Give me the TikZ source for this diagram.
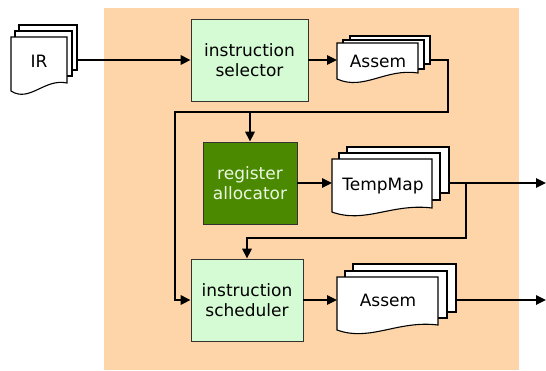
\documentclass[tikz,border=0pt]{standalone}
\usepackage{fontspec}
\setmainfont{DejaVu Sans}
\usetikzlibrary{arrows.meta}
\definecolor{bgor}{RGB}{253,213,168}
\definecolor{lgreen}{RGB}{213,251,212}
\definecolor{dgreen}{RGB}{74,137,0}
\definecolor{ltext}{RGB}{235,248,225}
\tikzset{
  conn/.style={line width=1.7pt, draw=black},
  arr/.style={conn, -{Triangle[length=10pt,width=9.5pt]}},
  procbox/.style={draw=black!80, line width=0.9pt, align=center, inner sep=0pt,
    font=\fontsize{17}{20}\selectfont},
  pagest/.style={draw=black, line width=1.1pt, fill=white},
  pagenode/.style={pagest, inner sep=0pt, outer sep=0pt, anchor=north west},
  doctext/.style={anchor=base, inner sep=0pt, font=\fontsize{17}{20}\selectfont},
}
% back page as named node: name, l, t, r, b
\newcommand\backpage[5]{%
  \pgfmathsetmacro\bpw{#4-#2}\pgfmathsetmacro\bph{#5-#3}%
  \node[pagenode, minimum width=\bpw pt, minimum height=\bph pt] (#1) at (#2,#3) {};}
% front page with wavy bottom: name, l, t, r, bl, br
\newcommand\frontpage[6]{%
  \pgfmathsetmacro\wA{#2+0.6*(#4-#2)}%
  \pgfmathsetmacro\wB{#2+0.33*(#4-#2)}%
  \pgfmathsetmacro\fpw{#4-#2}\pgfmathsetmacro\fph{#6-#3}%
  \draw[pagest] (#2,#3) -- (#4,#3) -- (#4,#6) .. controls (\wA,#6-5) and (\wB,#5+12) .. (#2,#5) -- cycle;
  \node[inner sep=0pt, outer sep=0pt, anchor=north west, minimum width=\fpw pt, minimum height=\fph pt] (#1) at (#2,#3) {};}
\begin{document}
\begin{tikzpicture}[x=1pt,y=-1pt]
\useasboundingbox (0,0) rectangle (546,370);
\fill[bgor] (104,8) rectangle (519,370);

% IR document stack
\backpage{IRb}{19}{25}{77}{70}
\backpage{IRm}{15}{31}{72}{76}
\frontpage{IRf}{11}{37}{67}{91}{83}
\node[doctext] (IRt) at (39,67) {IR};

% process boxes
\node[procbox, fill=lgreen, minimum width=117pt, minimum height=82pt] (sel) at (249.5,60) {instruction\\selector};
\node[procbox, fill=dgreen, text=ltext, minimum width=94pt, minimum height=82pt] (reg) at (250,183) {register\\allocator};
\node[procbox, fill=lgreen, minimum width=112pt, minimum height=82pt] (sch) at (247,300) {instruction\\scheduler};

% Assem (first)
\backpage{Ab}{350}{36}{430}{64}
\backpage{Am}{343}{40}{424}{69}
\frontpage{Af}{337}{43}{418}{79}{73}
\node[doctext] (At) at (378,67) {Assem};

% TempMap
\backpage{Tb}{347}{147}{449}{193}
\backpage{Tm}{339}{153}{440}{200}
\frontpage{Tf}{332}{159}{432}{212}{208}
\node[doctext] (Tt) at (383,190) {TempMap};

% Assem (second)
\backpage{Bb}{353}{264}{456}{312}
\backpage{Bm}{345}{271}{447}{318}
\frontpage{Bf}{337}{277}{438}{330}{325}
\node[doctext] (Bt) at (388,306) {Assem};

% helper coordinates
\coordinate (c1) at (448,112);
\coordinate (c2) at (175,112);
\coordinate (c3) at (466,238);
\coordinate (out1) at (546,183);
\coordinate (out2) at (546,300);

% connectors
\draw[arr] (sel.west -| IRb.east) -- (sel.west);
\draw[arr] (sel.east) -- (sel.east -| Af.west);
\draw[arr] (Ab.east |- sel.east) -| (c1) -- (c2) |- (sch.west);
\draw[arr] (reg.north |- c1) -- (reg.north);
\draw[arr] (reg.east) -- (reg.east -| Tf.west);
\draw[arr] (Tb.east |- reg.east) -- (out1);
\draw[arr] (c3 |- reg.east) -- (c3) -| (sch.north);
\draw[arr] (sch.east) -- (sch.east -| Bf.west);
\draw[arr] (Bb.east |- sch.east) -- (out2);
\end{tikzpicture}
\end{document}
